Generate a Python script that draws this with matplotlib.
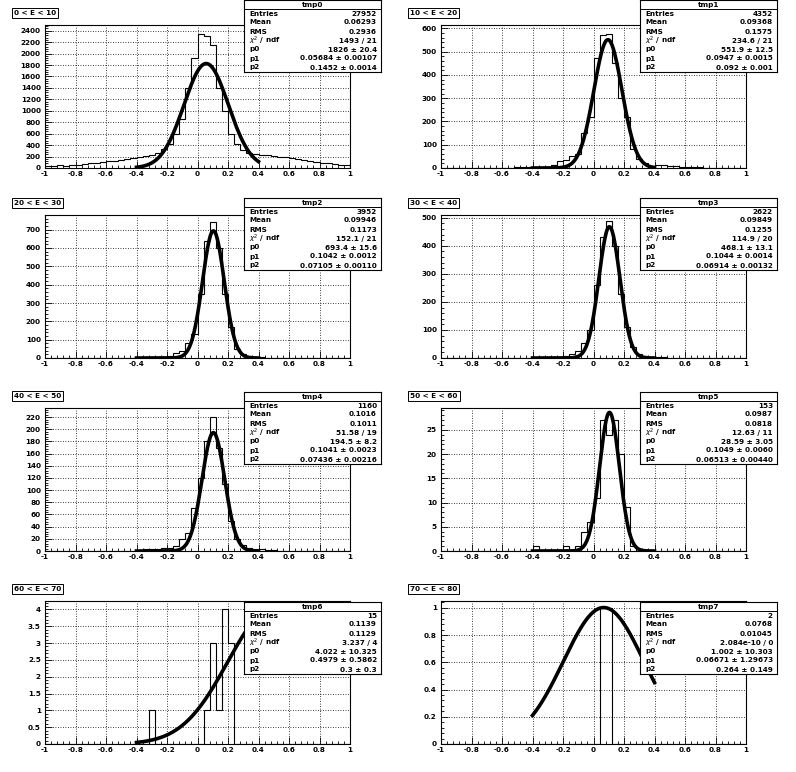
import numpy as np
import matplotlib
matplotlib.use("Agg")
import matplotlib.pyplot as plt
from matplotlib.ticker import MultipleLocator, AutoMinorLocator, FuncFormatter

edges = np.linspace(-1, 1, 51)
titles = ["0 < E < 10", "10 < E < 20", "20 < E < 30", "30 < E < 40",
          "40 < E < 50", "50 < E < 60", "60 < E < 70", "70 < E < 80"]
names = ["tmp0", "tmp1", "tmp2", "tmp3", "tmp4", "tmp5", "tmp6", "tmp7"]
z = lambda n: [0] * n

h0 = [40,35,45,40,50,60,70,80,95,110,120,130,140,150,180,
      200,210,230,260,330,420,600,850,1400,1920,2350,2300,2150,1400,1000,
      600,420,320,270,250,
      230,220,210,200,185,170,150,135,120,105,95,80,70,60,50]
h1 = z(12) + [3,3,5, 5,5,5,15,30, 35,50,60,150,220, 475,570,575,450,300,
      220,80,40,20,10, 15,12,10,8,6,5,4,3,2,2,1,1,1,0,0]
h2 = z(15) + [2,2,3,5,8, 10,25,40,80,130, 350,640,740,600,350,
      170,50,20,10,5, 3,2,2,1] + z(11)
h3 = z(15) + [1,2,2,3,5, 8,15,25,55,100, 260,430,490,400,230,
      110,40,15,8,4, 2,2,1] + z(12)
h4 = z(15) + [2,3,3,3,5, 5,8,20,30,70, 120,180,220,170,110,
      50,20,10,5,3, 3,2,1] + z(12)
h5 = z(15) + [1,0,0,0,0, 1,0,1,4,6, 11,27,24,27,20, 9,1] + z(18)
h6 = z(17) + [1] + z(7) + [0,1,3,1,4,3] + z(19)
h7 = z(26) + [1,1] + z(22)
hists = [h0, h1, h2, h3, h4, h5, h6, h7]

entries = ["27952", "4352", "3952", "2622", "1160", "153", "15", "2"]
means = ["0.06293", "0.09368", "0.09946", "0.09849", "0.1016", "0.0987", "0.1139", "0.0768"]
rmss = ["0.2936", "0.1575", "0.1173", "0.1255", "0.1011", "0.0818", "0.1129", "0.01045"]
chi2 = ["1493 / 21", "234.6 / 21", "152.1 / 21", "114.9 / 20", "51.58 / 19",
        "12.63 / 11", "3.237 / 4", "2.084e-10 / 0"]
p0 = [1826, 551.9, 693.4, 468.1, 194.5, 28.59, 4.022, 1.002]
p1 = [0.05684, 0.0947, 0.1042, 0.1044, 0.1041, 0.1049, 0.4979, 0.06671]
p2 = [0.1452, 0.092, 0.07105, 0.06914, 0.07436, 0.06513, 0.3, 0.264]
p0s = ["1826 ± 20.4", "551.9 ± 12.5", "693.4 ± 15.6", "468.1 ± 13.1", "194.5 ± 8.2",
       "28.59 ± 3.05", "4.022 ± 10.325", "1.002 ± 10.303"]
p1s = ["0.05684 ± 0.00107", "0.0947 ± 0.0015", "0.1042 ± 0.0012", "0.1044 ± 0.0014",
       "0.1041 ± 0.0023", "0.1049 ± 0.0060", "0.4979 ± 0.5862", "0.06671 ± 1.29673"]
p2s = ["0.1452 ± 0.0014", "0.092 ± 0.001", "0.07105 ± 0.00110", "0.06914 ± 0.00132",
       "0.07436 ± 0.00216", "0.06513 ± 0.00440", "0.3 ± 0.3", "0.264 ± 0.149"]
ymax = [2500, 615, 780, 510, 235, 29.5, 4.25, 1.05]
ymaj = [200, 100, 100, 100, 20, 5, 0.5, 0.2]

W, H = 796, 772
fig = plt.figure(figsize=(W / 100, H / 100), dpi=100)
fig.patch.set_facecolor("white")

def rect(x0, y0, x1, y1):
    return [x0 / W, 1 - y1 / H, (x1 - x0) / W, (y1 - y0) / H]

def fmt(v, pos):
    v = round(v, 6)
    if abs(v) < 1e-9:
        return "0"
    return "%g" % v

row_top = [0, 190, 383, 576]
box_top = [0, 198, 392, 602]
fs = 5.2
for k in range(8):
    r, c = divmod(k, 2)
    ox = 0 if c == 0 else 396
    oy = row_top[r]
    ax = fig.add_axes(rect(ox + 45, oy + 25, ox + 350, oy + 168))
    ax.stairs(hists[k], edges, color="black", lw=0.8)
    xs = np.linspace(-0.4, 0.4, 200)
    ax.plot(xs, p0[k] * np.exp(-0.5 * ((xs - p1[k]) / p2[k]) ** 2), color="black", lw=2.6)
    ax.set_xlim(-1, 1)
    ax.set_ylim(0, ymax[k])
    ax.xaxis.set_major_locator(MultipleLocator(0.2))
    ax.xaxis.set_minor_locator(AutoMinorLocator(5))
    ax.yaxis.set_major_locator(MultipleLocator(ymaj[k]))
    ax.yaxis.set_minor_locator(AutoMinorLocator(5))
    ax.xaxis.set_major_formatter(FuncFormatter(fmt))
    ax.yaxis.set_major_formatter(FuncFormatter(fmt))
    ax.tick_params(which="both", direction="in", labelsize=fs, width=0.6)
    ax.tick_params(axis="x", pad=2)
    ax.tick_params(axis="y", pad=3)
    ax.tick_params(which="major", length=5)
    ax.tick_params(which="minor", length=2.5)
    ax.grid(True, which="major", ls=(0, (1, 2)), color="black", lw=0.6)
    for s in ax.spines.values():
        s.set_linewidth(0.8)
    for t in ax.get_xticklabels() + ax.get_yticklabels():
        t.set_fontweight("bold")
    fig.text((ox + 14) / W, 1 - (oy + 13) / H, titles[k], fontsize=fs, fontweight="bold",
             va="center", ha="left",
             bbox=dict(boxstyle="square,pad=0.3", fc="white", ec="black", lw=0.7))
    bx0 = ox + 244
    bx1 = ox + 381
    by0 = box_top[k // 2]
    by1 = by0 + 72
    sa = fig.add_axes(rect(bx0, by0, bx1, by1))
    sa.set_xlim(0, 1); sa.set_ylim(0, 8)
    sa.set_xticks([]); sa.set_yticks([])
    for s in sa.spines.values():
        s.set_linewidth(0.8)
    sa.axhline(7, color="black", lw=0.7)
    sa.text(0.5, 7.5, names[k], ha="center", va="center", fontsize=fs, fontweight="bold")
    rows = [("Entries", entries[k]), ("Mean", means[k]), ("RMS", rmss[k]),
            (r"$\chi^2$ / ndf", chi2[k]), ("p0", p0s[k]), ("p1", p1s[k]), ("p2", p2s[k])]
    for i, (a, b) in enumerate(rows):
        y = 6.5 - i
        sa.text(0.04, y, a, ha="left", va="center", fontsize=fs, fontweight="bold")
        sa.text(0.97, y, b, ha="right", va="center", fontsize=fs, fontweight="bold")

fig.savefig("out.png", dpi=100)
